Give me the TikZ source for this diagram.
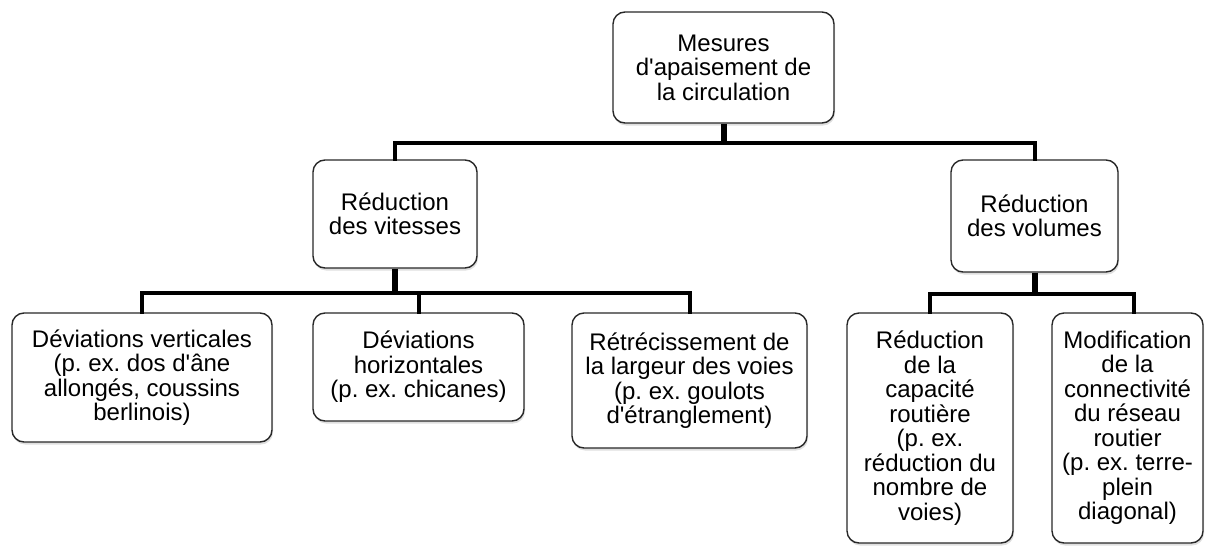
\documentclass[tikz,border=0pt]{standalone}
\usepackage{fontspec}
\setmainfont{Liberation Sans}[Ligatures=TeXOff]
\usepackage{tikz}
\usetikzlibrary{positioning,shadows}
\frenchspacing
\tikzset{
box/.style={draw={rgb,255:red,40;green,40;blue,40}, line width=1.4pt, rounded corners=12pt, fill=white,
  align=center, inner sep=2pt, font=\fontsize{24}{24.5}\selectfont,
  drop shadow={shadow xshift=1pt, shadow yshift=-2.5pt, opacity=0.25}},
link/.style={line width=4pt, line cap=rect},
stem/.style={line width=6pt}}

\begin{document}
\begin{tikzpicture}[x=1pt,y=1pt,yscale=-1,xscale=1]
\useasboundingbox (0,0) rectangle (1206,546);
% Root
\draw (723.5,67.5) node [box, minimum width=221pt, minimum height=111pt] (root) {Mesures\\d'apaisement de\\la circulation};
% Second level
\draw (395,214) node [box, minimum width=164pt, minimum height=108pt] (vit) {Réduction\\des vitesses};
\draw (1034.5,216) node [box, minimum width=167pt, minimum height=112pt] (vol) {Réduction\\des volumes};
% Third level (speeds)
\draw (142,377.5) node [box, minimum width=260pt, minimum height=129pt] (dv) {Déviations verticales\\(p. ex. dos d'âne\\allongés, coussins\\berlinois)};
\draw (418.5,367) node [box, minimum width=211pt, minimum height=108pt] (dh) {Déviations\\horizontales\\(p. ex. chicanes)};
\draw (689.5,380.5) node [box, minimum width=235pt, minimum height=135pt] (ret) {Rétrécissement de\\la largeur des voies\\(p. ex. goulots\\d'étranglement)};
% Third level (volumes)
\draw (930,428) node [box, minimum width=166pt, minimum height=230pt] (cap) {Réduction\\de la\\capacité\\routière\\(p. ex.\\réduction du\\nombre de\\voies)};
\draw (1127.5,428) node [box, minimum width=151pt, minimum height=230pt] (con) {Modification\\de la\\connectivité\\du réseau\\routier\\(p. ex. terre-\\plein\\diagonal)};

% Connectors
\draw [stem] (root.south) -- ++(0,19) coordinate (r1);
\draw [link] (r1) -| (vit.north);
\draw [link] (r1) -| (vol.north);
\draw [stem] (vit.south) -- ++(0,24) coordinate (v1);
\draw [link] (v1) -| (dv.north);
\draw [link] (v1) -| (dh.north);
\draw [link] (v1) -| (ret.north);
\draw [stem] (vol.south) -- ++(0,21) coordinate (w1);
\draw [link] (w1) -| (cap.north);
\draw [link] (w1) -| ([xshift=6pt]con.north);
\end{tikzpicture}
\end{document}
